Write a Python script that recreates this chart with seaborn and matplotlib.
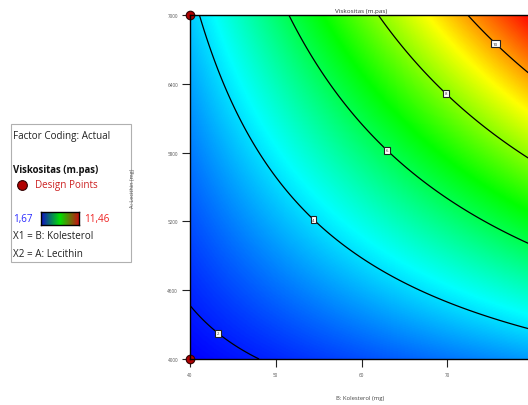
import numpy as np
import pandas as pd
import matplotlib
matplotlib.use("Agg")
import matplotlib.pyplot as plt
from matplotlib.colors import LinearSegmentedColormap
from matplotlib.patches import Rectangle
import seaborn as sns

# ---- data ----
kolesterol_range = [40, 80]          # B (mg)
lecithin_range = [4000, 7000]        # A (mg)
# 2FI model in normalised factors b=(B-40)/40, a=(A-4000)/3000
coef_intercept = 1.67
coef_b = 1.64
coef_a = 2.12
coef_ab = 6.03
contour_levels = [2, 4, 6, 8, 10]
label_positions = [(43.4, 4235), (54.6, 5230), (63.1, 5830), (70.0, 6330), (75.8, 6765)]
design_B = [40, 40, 80, 80]
design_A = [4000, 7000, 4000, 7000]
x_ticks = [40, 50, 60, 70]
y_ticks = [4000, 4600, 5200, 5800, 6400, 7000]
resp_min, resp_max = 1.67, 11.46

sns.set_style("white")
plt.rcParams['font.family'] = ['Open Sans', 'DejaVu Sans']

fig = plt.figure(figsize=(5.28, 4.06), dpi=100)
W, H = 528, 406
ax_left, ax_right, ax_top, ax_bottom = 190, 533, 16, 360
ax = fig.add_axes([ax_left / W, 1 - ax_bottom / H, (ax_right - ax_left) / W, (ax_bottom - ax_top) / H])

Bg = np.linspace(kolesterol_range[0], kolesterol_range[1], 300)
Ag = np.linspace(lecithin_range[0], lecithin_range[1], 300)
BB, AA = np.meshgrid(Bg, Ag)
bn = (BB - 40) / 40
an = (AA - 4000) / 3000
Z = coef_intercept + coef_b * bn + coef_a * an + coef_ab * bn * an

cmap = LinearSegmentedColormap.from_list(
    "de", [(0.0, "#0000ff"), (0.27, "#00ffff"), (0.52, "#00ff00"), (0.76, "#ffff00"), (1.0, "#ff0000")])
ax.imshow(Z, origin="lower", extent=[40, 80, 4000, 7000], aspect="auto", cmap=cmap,
          vmin=resp_min, vmax=resp_max, interpolation="bilinear", zorder=0)
cs = ax.contour(BB, AA, Z, levels=contour_levels, colors="black", linewidths=0.9, zorder=2)
labels = ax.clabel(cs, levels=contour_levels, inline=False, fontsize=3.2, fmt="%d",
                   manual=label_positions, colors="#333333")
for t in labels:
    t.set_rotation(0)
    t.set_bbox(dict(boxstyle="square,pad=0.35", fc="white", ec="#222222", lw=0.8))
    t.set_zorder(5)

df = pd.DataFrame({"B": design_B, "A": design_A})
sns.scatterplot(data=df, x="B", y="A", ax=ax, color="#b00000", edgecolor="#300000",
                s=38, linewidth=0.8, zorder=6, clip_on=False, legend=False)

ax.set_xlim(40, 80)
ax.set_ylim(4000, 7000)
ax.set_xticks(x_ticks)
ax.set_yticks(y_ticks)
ax.set_xticklabels([str(v) for v in x_ticks])
ax.set_yticklabels([str(v) for v in y_ticks])
ax.tick_params(axis="both", direction="out", length=5.8, width=0.8, color="#222222",
               labelsize=3.3, labelcolor="#555555", left=True, bottom=True)
ax.tick_params(axis="x", pad=3.4)
ax.tick_params(axis="y", pad=2.8)
for s in ax.spines.values():
    s.set_color("black")
    s.set_linewidth(1.0)
    s.set_visible(True)
    s.set_zorder(7)

ax.set_title("Viskositas (m.pas)", fontsize=4.6, color="#333333", pad=2.2)
ax.set_xlabel("B: Kolesterol (mg)", fontsize=4.2, color="#444444")
ax.set_ylabel("A: Lecithin (mg)", fontsize=4.0, color="#555555")
ax.xaxis.set_label_coords(((360 - ax_left) / (ax_right - ax_left)), (ax_bottom - 396) / (ax_bottom - ax_top))
ax.yaxis.set_label_coords((135 - ax_left) / (ax_right - ax_left), 0.5)

# ---- legend box ----
def fx(px):
    return px / W

def fy(py):
    return 1 - py / H

fig.patches.append(Rectangle((fx(11), fy(263)), (131 - 11) / W, (263 - 125) / H,
                             transform=fig.transFigure, fill=True, fc="white",
                             ec="#b0b0b0", lw=0.8, zorder=-1))
fs = 7.1
fig.text(fx(13), fy(136), "Factor Coding: Actual", fontsize=fs, color="#222222", va="center", zorder=3)
fig.text(fx(13), fy(171), "Viskositas (m.pas)", fontsize=fs - 0.2, color="#111111", weight="bold", va="center", zorder=3)
fig.lines.append(plt.Line2D([fx(22)], [fy(186)], transform=fig.transFigure, marker="o",
                            markersize=7, color="#b00000", markeredgecolor="#300000",
                            markeredgewidth=0.8, zorder=3))
fig.text(fx(35), fy(186), "Design Points", fontsize=fs, color="#cc2222", va="center", zorder=3)
fig.text(fx(13), fy(220), "1,67", fontsize=fs, color="#2a2aff", va="center", zorder=3)
fig.text(fx(84), fy(220), "11,46", fontsize=fs, color="#ee2222", va="center", zorder=3)
cax = fig.add_axes([fx(41), fy(226), (79 - 41) / W, (226 - 213) / H])
cax.set_zorder(5)
grad = np.linspace(0, 1, 200).reshape(1, -1)
leg_cmap = LinearSegmentedColormap.from_list("lg", ["#1010c8", "#00e000", "#c81010"])
cax.imshow(grad, aspect="auto", cmap=leg_cmap, extent=[0, 1, 0, 1])
cax.set_xticks([])
cax.set_yticks([])
for s in cax.spines.values():
    s.set_color("black")
    s.set_linewidth(1.0)
    s.set_visible(True)
fig.text(fx(13), fy(237), "X1 = B: Kolesterol", fontsize=fs, color="#222222", va="center", zorder=3)
fig.text(fx(13), fy(255), "X2 = A: Lecithin", fontsize=fs, color="#222222", va="center", zorder=3)

fig.savefig("out.png", dpi=100)
